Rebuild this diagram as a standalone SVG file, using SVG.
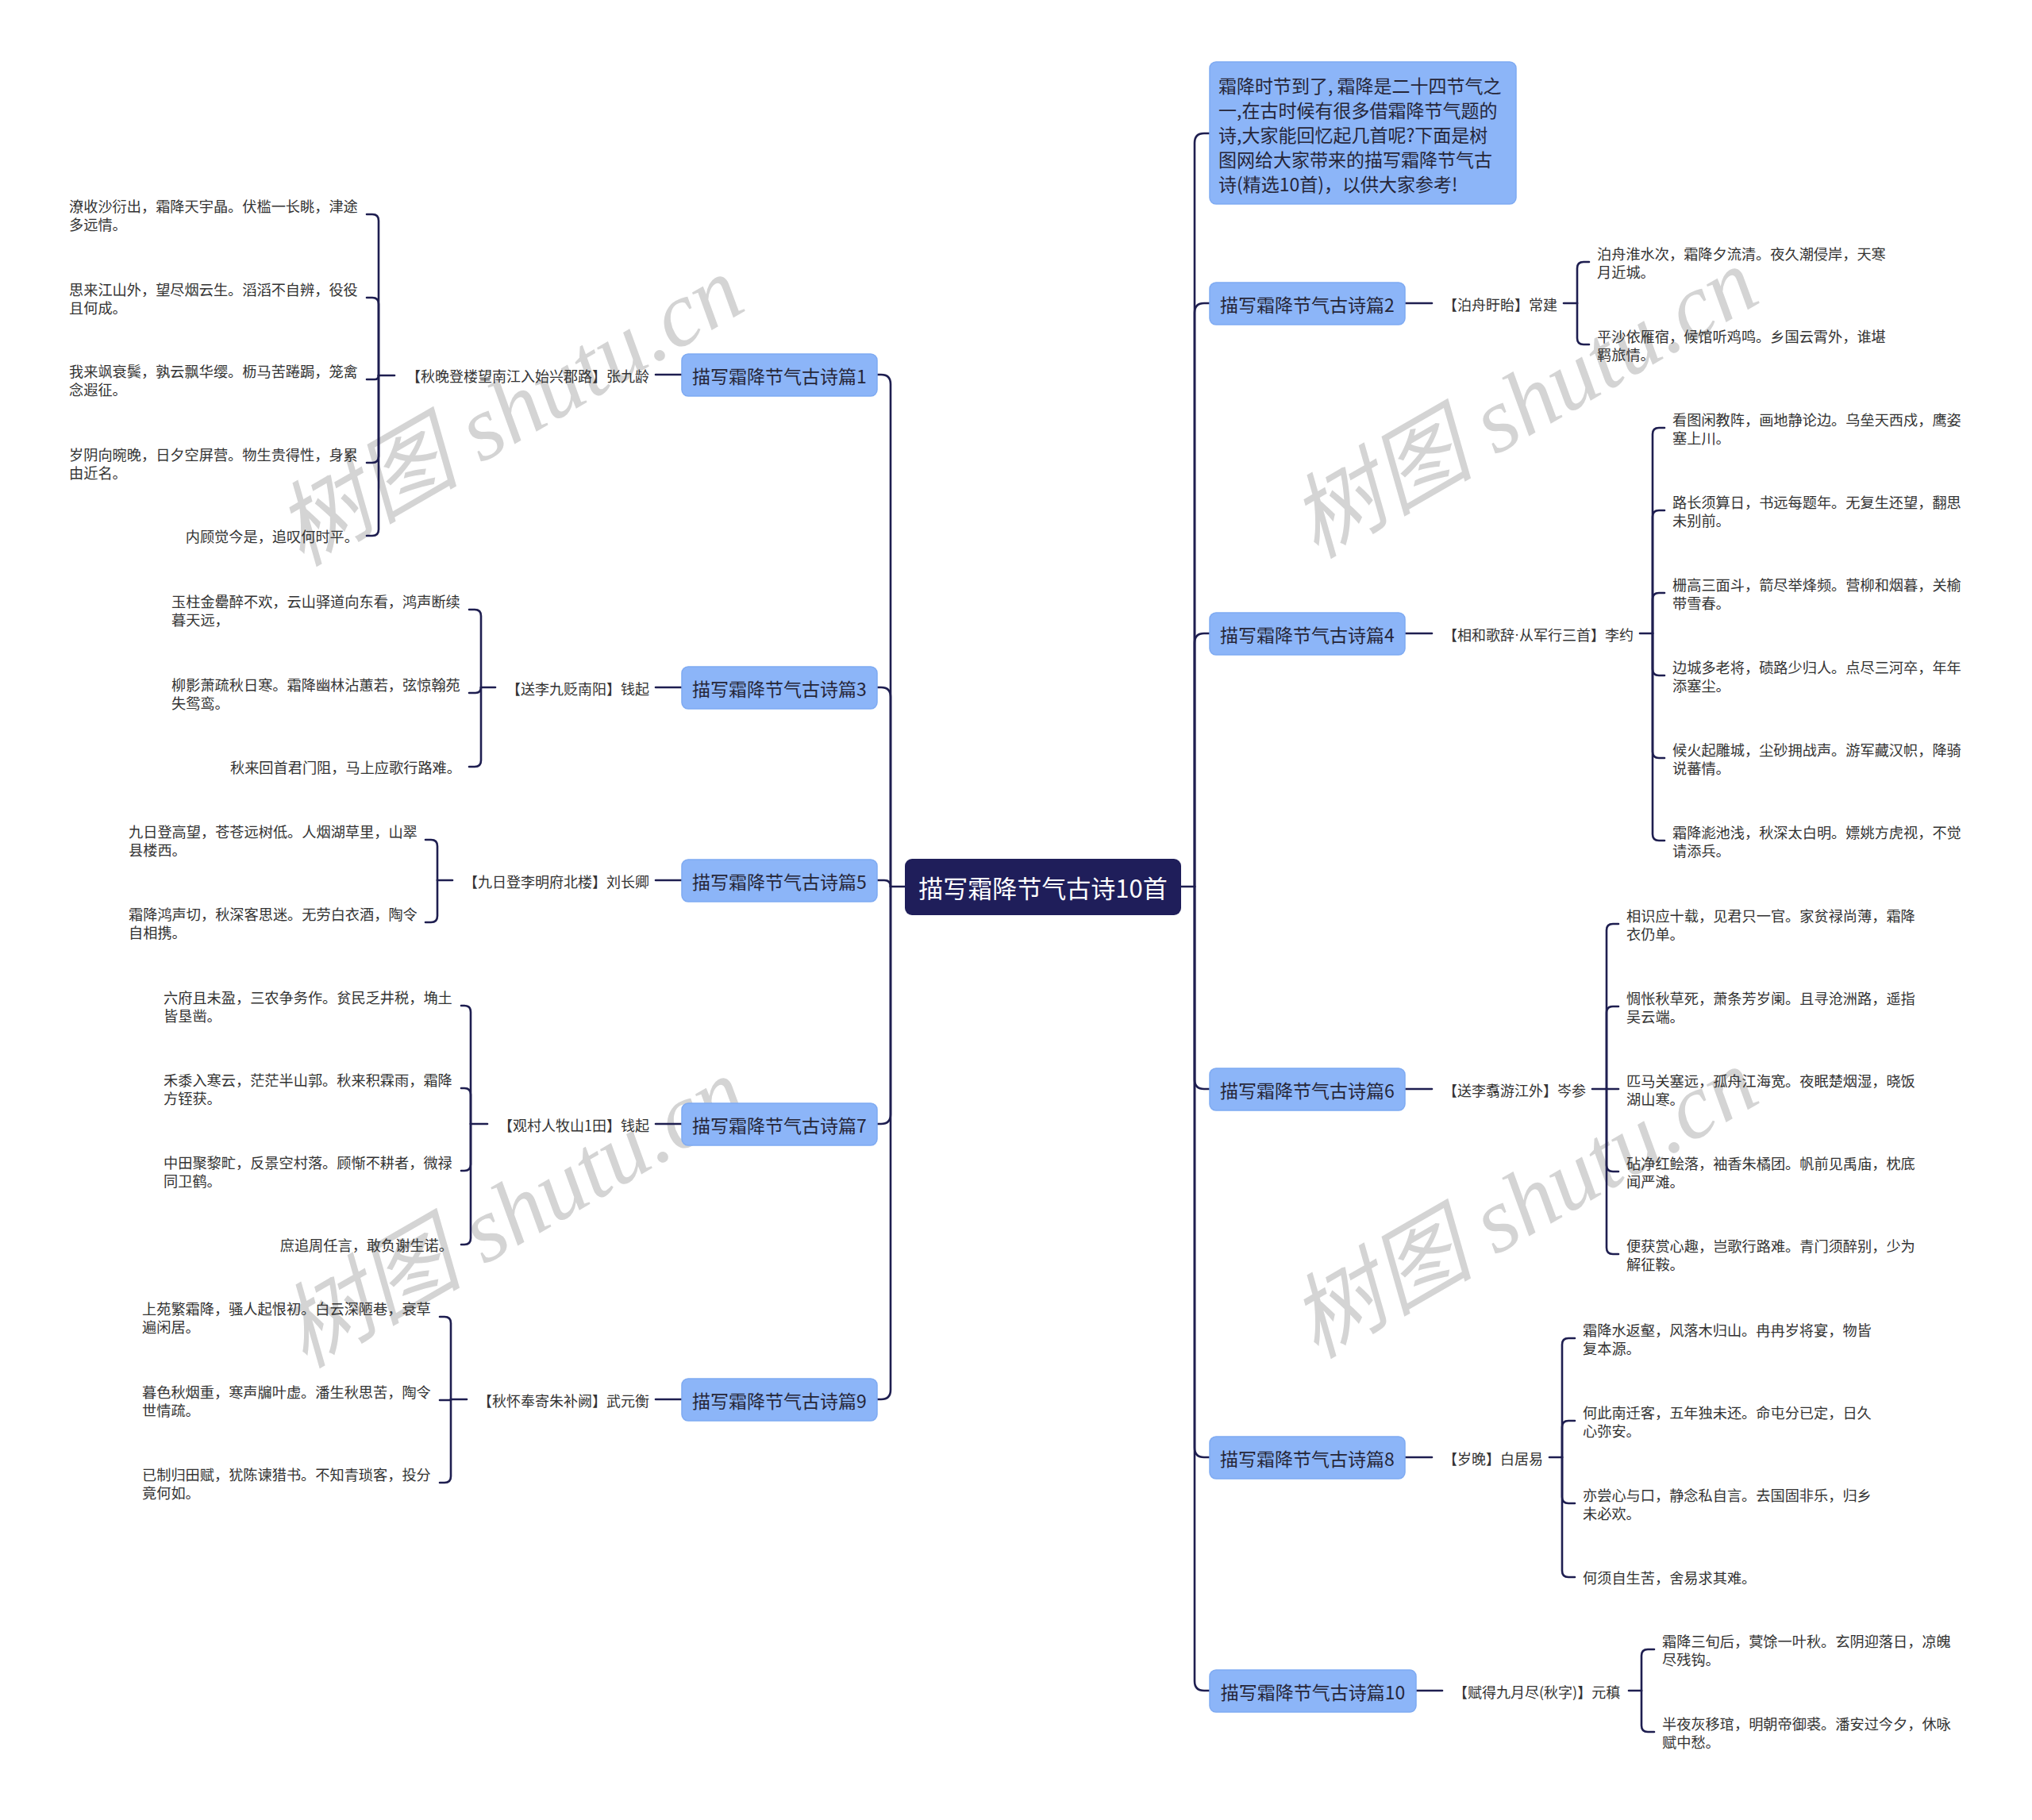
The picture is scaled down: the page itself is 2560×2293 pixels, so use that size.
<svg xmlns="http://www.w3.org/2000/svg" width="2560" height="2293" viewBox="0 0 2560 2293">
<style>
.wm{font-family:"Liberation Serif","Noto Sans CJK SC",serif;font-style:italic;font-size:116px;fill:#d4d4d4;text-anchor:middle;dominant-baseline:central}
.c{fill:none;stroke:#1e1e50;stroke-width:2.6;stroke-linecap:round;stroke-linejoin:round}
.nd rect{fill:#8cb5f8;stroke:#7eaaf2;stroke-width:1.5}
.t{font-family:"Noto Sans CJK SC","Noto Sans CJK JP",sans-serif}
.nt{font-size:23px;fill:#262638;text-anchor:middle;dominant-baseline:central}
.lb{font-size:18px;fill:#333;dominant-baseline:central}
.lf{font-size:18.2px;fill:#333;dominant-baseline:central}
.e{text-anchor:end}
.dot{font-family:"Liberation Sans",sans-serif}
</style>
<rect x="0" y="0" width="2560" height="2293" fill="#ffffff"/>
<g id="watermarks">
<text class="wm" transform="translate(642,518) rotate(-30)">树图 shutu.cn</text>
<text class="wm" transform="translate(646,1528) rotate(-30)">树图 shutu.cn</text>
<text class="wm" transform="translate(1920,508) rotate(-30)">树图 shutu.cn</text>
<text class="wm" transform="translate(1920,1516) rotate(-30)">树图 shutu.cn</text>
</g>
<g id="connectors">
<path class="c" d="M1140 1117 H1122"/>
<path class="c" d="M1122 1117 V484 Q1122 472 1110 472 H1105"/>
<path class="c" d="M1122 1117 V878 Q1122 866 1110 866 H1105"/>
<path class="c" d="M1122 1117 Q1122 1109 1114 1109 H1105"/>
<path class="c" d="M1122 1117 V1404 Q1122 1416 1110 1416 H1105"/>
<path class="c" d="M1122 1117 V1751 Q1122 1763 1110 1763 H1105"/>
<path class="c" d="M1488 1117 H1505"/>
<path class="c" d="M1505 1117 V180 Q1505 168 1517 168 H1524"/>
<path class="c" d="M1505 1117 V394 Q1505 382 1517 382 H1524"/>
<path class="c" d="M1505 1117 V810 Q1505 798 1517 798 H1524"/>
<path class="c" d="M1505 1117 V1360 Q1505 1372 1517 1372 H1524"/>
<path class="c" d="M1505 1117 V1824 Q1505 1836 1517 1836 H1524"/>
<path class="c" d="M1505 1117 V2118 Q1505 2130 1517 2130 H1524"/>
<path class="c" d="M859 472 H826"/>
<path class="c" d="M859 866 H826"/>
<path class="c" d="M859 1109 H826"/>
<path class="c" d="M859 1416 H826"/>
<path class="c" d="M859 1763 H826"/>
<path class="c" d="M1770 382 H1804"/>
<path class="c" d="M1770 798 H1804"/>
<path class="c" d="M1770 1372 H1804"/>
<path class="c" d="M1770 1836 H1804"/>
<path class="c" d="M1784 2130 H1817"/>
<path class="c" d="M497 473 H477"/>
<path class="c" d="M477 473 V278 Q477 270 469 270 H462"/>
<path class="c" d="M477 473 V383 Q477 375 469 375 H462"/>
<path class="c" d="M477 473 Q477 478 472 478 H462"/>
<path class="c" d="M477 473 V575 Q477 583 469 583 H462"/>
<path class="c" d="M477 473 V667 Q477 675 469 675 H462"/>
<path class="c" d="M624 866 H606"/>
<path class="c" d="M606 866 V776 Q606 768 598 768 H591"/>
<path class="c" d="M606 866 Q606 873 599 873 H591"/>
<path class="c" d="M606 866 V958 Q606 966 598 966 H591"/>
<path class="c" d="M570 1109 H551"/>
<path class="c" d="M551 1109 V1066 Q551 1058 543 1058 H536"/>
<path class="c" d="M551 1109 V1154 Q551 1162 543 1162 H536"/>
<path class="c" d="M614 1416 H593"/>
<path class="c" d="M593 1416 V1275 Q593 1267 585 1267 H581"/>
<path class="c" d="M593 1416 V1379 Q593 1371 585 1371 H581"/>
<path class="c" d="M593 1416 V1467 Q593 1475 585 1475 H581"/>
<path class="c" d="M593 1416 V1560 Q593 1568 585 1568 H581"/>
<path class="c" d="M588 1763 H568"/>
<path class="c" d="M568 1763 V1667 Q568 1659 560 1659 H554"/>
<path class="c" d="M568 1763 V1764 H554"/>
<path class="c" d="M568 1763 V1860 Q568 1868 560 1868 H554"/>
<path class="c" d="M1970 382 H1987"/>
<path class="c" d="M1987 382 V338 Q1987 330 1995 330 H2002"/>
<path class="c" d="M1987 382 V426 Q1987 434 1995 434 H2002"/>
<path class="c" d="M2066 798 H2082"/>
<path class="c" d="M2082 798 V547 Q2082 539 2090 539 H2097"/>
<path class="c" d="M2082 798 V651 Q2082 643 2090 643 H2097"/>
<path class="c" d="M2082 798 V755 Q2082 747 2090 747 H2097"/>
<path class="c" d="M2082 798 V843 Q2082 851 2090 851 H2097"/>
<path class="c" d="M2082 798 V947 Q2082 955 2090 955 H2097"/>
<path class="c" d="M2082 798 V1051 Q2082 1059 2090 1059 H2097"/>
<path class="c" d="M2006 1372 H2024"/>
<path class="c" d="M2024 1372 V1172 Q2024 1164 2032 1164 H2039"/>
<path class="c" d="M2024 1372 V1276 Q2024 1268 2032 1268 H2039"/>
<path class="c" d="M2024 1372 H2039"/>
<path class="c" d="M2024 1372 V1468 Q2024 1476 2032 1476 H2039"/>
<path class="c" d="M2024 1372 V1572 Q2024 1580 2032 1580 H2039"/>
<path class="c" d="M1952 1836 H1968"/>
<path class="c" d="M1968 1836 V1694 Q1968 1686 1976 1686 H1984"/>
<path class="c" d="M1968 1836 V1798 Q1968 1790 1976 1790 H1984"/>
<path class="c" d="M1968 1836 V1886 Q1968 1894 1976 1894 H1984"/>
<path class="c" d="M1968 1836 V1979 Q1968 1987 1976 1987 H1984"/>
<path class="c" d="M2052 2130 H2068"/>
<path class="c" d="M2068 2130 V2086 Q2068 2078 2076 2078 H2084"/>
<path class="c" d="M2068 2130 V2174 Q2068 2182 2076 2182 H2084"/>
</g>
<g id="root" class="t">
<rect x="1140" y="1082" width="348" height="71" rx="9" fill="#1f1e5a"/>
<text x="1314" y="1117.5" font-size="31" fill="#ffffff" text-anchor="middle" dominant-baseline="central">描写霜降节气古诗10首</text>
</g>
<g id="intro" class="t nd">
<rect x="1524" y="78" width="386" height="179" rx="8"/>
<text font-size="23" fill="#262638" dominant-baseline="central">
<tspan x="1535" y="107">霜降时节到了, 霜降是二十四节气之</tspan>
<tspan x="1535" y="138">一,在古时候有很多借霜降节气题的</tspan>
<tspan x="1535" y="169">诗,大家能回忆起几首呢?下面是树</tspan>
<tspan x="1535" y="200">图网给大家带来的描写霜降节气古</tspan>
<tspan x="1535" y="231">诗(精选10首)，以供大家参考!</tspan>
</text>
</g>
<g id="p1" class="t nd"><rect x="859" y="446" width="246" height="53" rx="8"/><text class="nt" x="982" y="472.5">描写霜降节气古诗篇1</text></g>
<g id="p3" class="t nd"><rect x="859" y="840" width="246" height="53" rx="8"/><text class="nt" x="982" y="866.5">描写霜降节气古诗篇3</text></g>
<g id="p5" class="t nd"><rect x="859" y="1083" width="246" height="53" rx="8"/><text class="nt" x="982" y="1109.5">描写霜降节气古诗篇5</text></g>
<g id="p7" class="t nd"><rect x="859" y="1390" width="246" height="53" rx="8"/><text class="nt" x="982" y="1416.5">描写霜降节气古诗篇7</text></g>
<g id="p9" class="t nd"><rect x="859" y="1737" width="246" height="53" rx="8"/><text class="nt" x="982" y="1763.5">描写霜降节气古诗篇9</text></g>
<g id="p2" class="t nd"><rect x="1524" y="356" width="246" height="53" rx="8"/><text class="nt" x="1647" y="382.5">描写霜降节气古诗篇2</text></g>
<g id="p4" class="t nd"><rect x="1524" y="772" width="246" height="53" rx="8"/><text class="nt" x="1647" y="798.5">描写霜降节气古诗篇4</text></g>
<g id="p6" class="t nd"><rect x="1524" y="1346" width="246" height="53" rx="8"/><text class="nt" x="1647" y="1372.5">描写霜降节气古诗篇6</text></g>
<g id="p8" class="t nd"><rect x="1524" y="1810" width="246" height="53" rx="8"/><text class="nt" x="1647" y="1836.5">描写霜降节气古诗篇8</text></g>
<g id="p10" class="t nd"><rect x="1524" y="2104" width="260" height="53" rx="8"/><text class="nt" x="1654" y="2130.5">描写霜降节气古诗篇10</text></g>
<g id="labels" class="t">
<g id="p1-title"><text class="lb e" x="818" y="473">【秋晚登楼望南江入始兴郡路】张九龄</text></g>
<g id="p3-title"><text class="lb e" x="818" y="867">【送李九贬南阳】钱起</text></g>
<g id="p5-title"><text class="lb e" x="818" y="1110">【九日登李明府北楼】刘长卿</text></g>
<g id="p7-title"><text class="lb e" x="818" y="1417">【观村人牧山1田】钱起</text></g>
<g id="p9-title"><text class="lb e" x="818" y="1764">【秋怀奉寄朱补阙】武元衡</text></g>
<g id="p2-title"><text class="lb" x="1818" y="383">【泊舟盱眙】常建</text></g>
<g id="p4-title"><text class="lb" x="1818" y="799">【相和歌辞<tspan class="dot">·</tspan>从军行三首】李约</text></g>
<g id="p6-title"><text class="lb" x="1818" y="1373">【送李翥游江外】岑参</text></g>
<g id="p8-title"><text class="lb" x="1818" y="1837">【岁晚】白居易</text></g>
<g id="p10-title"><text class="lb" x="1831" y="2131">【赋得九月尽(秋字)】元稹</text></g>
</g>
<g id="leaves" class="t">
<g id="p1-l1"><text class="lf"><tspan x="87" y="259">潦收沙衍出，霜降天宇晶。伏槛一长眺，津途</tspan><tspan x="87" y="282">多远情。</tspan></text></g>
<g id="p1-l2"><text class="lf"><tspan x="87" y="364">思来江山外，望尽烟云生。滔滔不自辨，役役</tspan><tspan x="87" y="387">且何成。</tspan></text></g>
<g id="p1-l3"><text class="lf"><tspan x="87" y="467">我来飒衰鬓，孰云飘华缨。枥马苦踡跼，笼禽</tspan><tspan x="87" y="490">念遐征。</tspan></text></g>
<g id="p1-l4"><text class="lf"><tspan x="87" y="572">岁阴向晼晚，日夕空屏营。物生贵得性，身累</tspan><tspan x="87" y="595">由近名。</tspan></text></g>
<g id="p1-l5"><text class="lf e" x="452" y="675">内顾觉今是，追叹何时平。</text></g>
<g id="p3-l1"><text class="lf"><tspan x="216" y="757">玉柱金罍醉不欢，云山驿道向东看，鸿声断续</tspan><tspan x="216" y="780">暮天远，</tspan></text></g>
<g id="p3-l2"><text class="lf"><tspan x="216" y="862">柳影萧疏秋日寒。霜降幽林沾蕙若，弦惊翰苑</tspan><tspan x="216" y="885">失鸳鸾。</tspan></text></g>
<g id="p3-l3"><text class="lf e" x="581" y="966">秋来回首君门阻，马上应歌行路难。</text></g>
<g id="p5-l1"><text class="lf"><tspan x="162" y="1047">九日登高望，苍苍远树低。人烟湖草里，山翠</tspan><tspan x="162" y="1070">县楼西。</tspan></text></g>
<g id="p5-l2"><text class="lf"><tspan x="162" y="1151">霜降鸿声切，秋深客思迷。无劳白衣酒，陶令</tspan><tspan x="162" y="1174">自相携。</tspan></text></g>
<g id="p7-l1"><text class="lf"><tspan x="206" y="1256">六府且未盈，三农争务作。贫民乏井税，埆土</tspan><tspan x="206" y="1279">皆垦凿。</tspan></text></g>
<g id="p7-l2"><text class="lf"><tspan x="206" y="1360">禾黍入寒云，茫茫半山郭。秋来积霖雨，霜降</tspan><tspan x="206" y="1383">方铚获。</tspan></text></g>
<g id="p7-l3"><text class="lf"><tspan x="206" y="1464">中田聚黎甿，反景空村落。顾惭不耕者，微禄</tspan><tspan x="206" y="1487">同卫鹤。</tspan></text></g>
<g id="p7-l4"><text class="lf e" x="571" y="1568">庶追周任言，敢负谢生诺。</text></g>
<g id="p9-l1"><text class="lf"><tspan x="179" y="1648">上苑繁霜降，骚人起恨初。白云深陋巷，衰草</tspan><tspan x="179" y="1671">遍闲居。</tspan></text></g>
<g id="p9-l2"><text class="lf"><tspan x="179" y="1753">暮色秋烟重，寒声牖叶虚。潘生秋思苦，陶令</tspan><tspan x="179" y="1776">世情疏。</tspan></text></g>
<g id="p9-l3"><text class="lf"><tspan x="179" y="1857">已制归田赋，犹陈谏猎书。不知青琐客，投分</tspan><tspan x="179" y="1880">竟何如。</tspan></text></g>
<g id="p2-l1"><text class="lf"><tspan x="2012" y="319">泊舟淮水次，霜降夕流清。夜久潮侵岸，天寒</tspan><tspan x="2012" y="342">月近城。</tspan></text></g>
<g id="p2-l2"><text class="lf"><tspan x="2012" y="423">平沙依雁宿，候馆听鸡鸣。乡国云霄外，谁堪</tspan><tspan x="2012" y="446">羁旅情。</tspan></text></g>
<g id="p4-l1"><text class="lf"><tspan x="2107" y="528">看图闲教阵，画地静论边。乌垒天西戍，鹰姿</tspan><tspan x="2107" y="551">塞上川。</tspan></text></g>
<g id="p4-l2"><text class="lf"><tspan x="2107" y="632">路长须算日，书远每题年。无复生还望，翻思</tspan><tspan x="2107" y="655">未别前。</tspan></text></g>
<g id="p4-l3"><text class="lf"><tspan x="2107" y="736">栅高三面斗，箭尽举烽频。营柳和烟暮，关榆</tspan><tspan x="2107" y="759">带雪春。</tspan></text></g>
<g id="p4-l4"><text class="lf"><tspan x="2107" y="840">边城多老将，碛路少归人。点尽三河卒，年年</tspan><tspan x="2107" y="863">添塞尘。</tspan></text></g>
<g id="p4-l5"><text class="lf"><tspan x="2107" y="944">候火起雕城，尘砂拥战声。游军藏汉帜，降骑</tspan><tspan x="2107" y="967">说蕃情。</tspan></text></g>
<g id="p4-l6"><text class="lf"><tspan x="2107" y="1048">霜降滮池浅，秋深太白明。嫖姚方虎视，不觉</tspan><tspan x="2107" y="1071">请添兵。</tspan></text></g>
<g id="p6-l1"><text class="lf"><tspan x="2049" y="1153">相识应十载，见君只一官。家贫禄尚薄，霜降</tspan><tspan x="2049" y="1176">衣仍单。</tspan></text></g>
<g id="p6-l2"><text class="lf"><tspan x="2049" y="1257">惆怅秋草死，萧条芳岁阑。且寻沧洲路，遥指</tspan><tspan x="2049" y="1280">吴云端。</tspan></text></g>
<g id="p6-l3"><text class="lf"><tspan x="2049" y="1361">匹马关塞远，孤舟江海宽。夜眠楚烟湿，晓饭</tspan><tspan x="2049" y="1384">湖山寒。</tspan></text></g>
<g id="p6-l4"><text class="lf"><tspan x="2049" y="1465">砧净红鲙落，袖香朱橘团。帆前见禹庙，枕底</tspan><tspan x="2049" y="1488">闻严滩。</tspan></text></g>
<g id="p6-l5"><text class="lf"><tspan x="2049" y="1569">便获赏心趣，岂歌行路难。青门须醉别，少为</tspan><tspan x="2049" y="1592">解征鞍。</tspan></text></g>
<g id="p8-l1"><text class="lf"><tspan x="1994" y="1675">霜降水返壑，风落木归山。冉冉岁将宴，物皆</tspan><tspan x="1994" y="1698">复本源。</tspan></text></g>
<g id="p8-l2"><text class="lf"><tspan x="1994" y="1779">何此南迁客，五年独未还。命屯分已定，日久</tspan><tspan x="1994" y="1802">心弥安。</tspan></text></g>
<g id="p8-l3"><text class="lf"><tspan x="1994" y="1883">亦尝心与口，静念私自言。去国固非乐，归乡</tspan><tspan x="1994" y="1906">未必欢。</tspan></text></g>
<g id="p8-l4"><text class="lf" x="1994" y="1987">何须自生苦，舍易求其难。</text></g>
<g id="p10-l1"><text class="lf"><tspan x="2094" y="2067">霜降三旬后，蓂馀一叶秋。玄阴迎落日，凉魄</tspan><tspan x="2094" y="2090">尽残钩。</tspan></text></g>
<g id="p10-l2"><text class="lf"><tspan x="2094" y="2171">半夜灰移琯，明朝帝御裘。潘安过今夕，休咏</tspan><tspan x="2094" y="2194">赋中愁。</tspan></text></g>
</g>
</svg>
